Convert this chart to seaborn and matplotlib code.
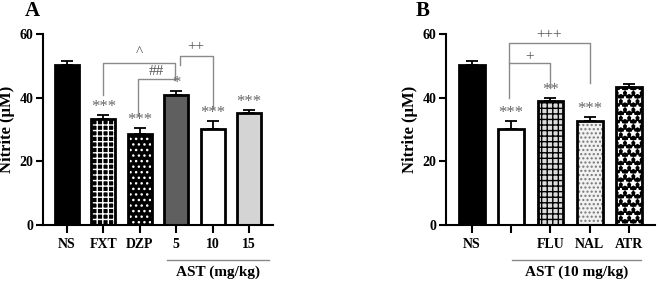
import numpy as np
import matplotlib
matplotlib.use("Agg")
import matplotlib.pyplot as plt
import matplotlib.transforms as mtransforms
import seaborn as sns

# panel A
labels_a = ["NS", "FXT", "DZP", "5", "10", "15"]
nitrite_a = [50.2, 33.2, 28.6, 40.9, 30.2, 35.3]
sem_a = [1.4, 1.3, 1.9, 1.2, 2.5, 0.7]
stars_a = ["", "***", "***", "*", "***", "***"]

# panel B
labels_b = ["NS", "", "FLU", "NAL", "ATR"]
nitrite_b = [50.2, 30.2, 38.8, 32.6, 43.2]
sem_b = [1.4, 2.5, 1.2, 1.3, 1.0]
stars_b = ["", "***", "**", "***", ""]

plt.rcParams['font.family'] = ['Liberation Serif', 'DejaVu Serif']
plt.rcParams['hatch.linewidth'] = 1.0

face_a = ["black", "black", "black", "#5f5f5f", "white", "#d4d4d4"]
hatch_a = [None, "+++", "...", None, None, None]
hcol_a = ["black", "white", "white", "black", "black", "black"]
face_b = ["black", "white", "#dcdcdc", "#f2f2f2", "black"]
hatch_b = [None, None, "+++", "....", "**"]
hcol_b = ["black", "black", "black", "#777777", "white"]

GRAY = "#8a8a8a"


def draw_panel(ax, labels, vals, errs, stars, faces, hatches, hcols):
    pos = list(range(len(labels)))
    names = [f"g{i}" for i in pos]
    sns.barplot(x=names, y=vals, hue=names, palette=faces, width=0.66,
                legend=False, ax=ax, linewidth=0, saturation=1)
    for p, h, c in zip(ax.patches, hatches, hcols):
        p.set_edgecolor(c)
        p.set_linewidth(0)
        if h:
            p.set_hatch(h)
    sns.barplot(x=names, y=vals, color="black", fill=False, width=0.66,
                linewidth=2.0, ax=ax)
    ax.errorbar(pos, vals, yerr=[np.zeros(len(vals)), errs], fmt="none",
                ecolor="black", elinewidth=1.3, capsize=4.5, capthick=1.3,
                zorder=4)
    for x, v, e, s in zip(pos, vals, errs, stars):
        if s:
            ax.annotate(s, (x, v + e), xytext=(0, 0), textcoords="offset points",
                        ha="center", va="bottom", fontsize=12, color="#666666")
    ax.set_xticks(pos)
    ax.set_xticklabels(labels, fontsize=10, fontweight="bold")
    ax.set_xlim(-0.66, len(labels) - 0.34)
    ax.set_ylim(0, 60)
    ax.set_yticks([0, 20, 40, 60])
    ax.tick_params(axis="y", labelsize=10, width=1.5, length=5, pad=2)
    ax.tick_params(axis="x", width=1.5, length=6, pad=3)
    for lab in ax.get_yticklabels():
        lab.set_fontweight("bold")
    ax.set_xlabel("")
    ax.set_ylabel("Nitrite (\u00b5M)", fontsize=12, fontweight="bold", labelpad=3)
    sns.despine(ax=ax)
    ax.spines["left"].set_linewidth(1.5)
    ax.spines["bottom"].set_linewidth(1.5)


def bracket(ax, x1, x2, top, y1, y2, text, ty):
    ax.plot([x1, x1, x2, x2], [y1, top, top, y2], color=GRAY, lw=1.0,
            clip_on=False, zorder=2)
    ax.text((x1 + x2) / 2, ty, text, ha="center", va="center", fontsize=11,
            color="#555555")


def group_line(ax, x1, x2, text):
    tr = mtransforms.blended_transform_factory(ax.transData, ax.transAxes)
    ax.plot([x1, x2], [-0.183, -0.183], color=GRAY, lw=1.0, transform=tr,
            clip_on=False)
    ax.text((x1 + x2) / 2, -0.25, text, transform=tr, ha="center", va="center",
            fontsize=11, fontweight="bold")


fig = plt.figure(figsize=(6.58, 2.82), dpi=100)
ax_a = fig.add_axes([0.0653, 0.2021, 0.3495, 0.6773])
ax_b = fig.add_axes([0.6778, 0.2021, 0.3176, 0.6773])

draw_panel(ax_a, labels_a, nitrite_a, sem_a, stars_a, face_a, hatch_a, hcol_a)
draw_panel(ax_b, labels_b, nitrite_b, sem_b, stars_b, face_b, hatch_b, hcol_b)

bracket(ax_a, 1.0, 2.97, 50.8, 40.8, 45.5, "^", 54.2)
bracket(ax_a, 1.95, 2.97, 45.9, 34.6, 45.9, "##", 48.2)
bracket(ax_a, 3.1, 4.0, 53.2, 50.3, 36.6, "++", 56.0)
group_line(ax_a, 2.74, 5.56, "AST (mg/kg)")

bracket(ax_b, 0.95, 2.0, 50.8, 39.8, 42.9, "+", 52.9)
bracket(ax_b, 0.95, 3.0, 57.3, 50.8, 44.5, "+++", 59.9)
group_line(ax_b, 1.03, 4.3, "AST (10 mg/kg)")

fig.text(0.049, 0.96, "A", fontsize=15, fontweight="bold", va="center", ha="center")
fig.text(0.643, 0.96, "B", fontsize=15, fontweight="bold", va="center", ha="center")

fig.savefig("out.png", dpi=100)
